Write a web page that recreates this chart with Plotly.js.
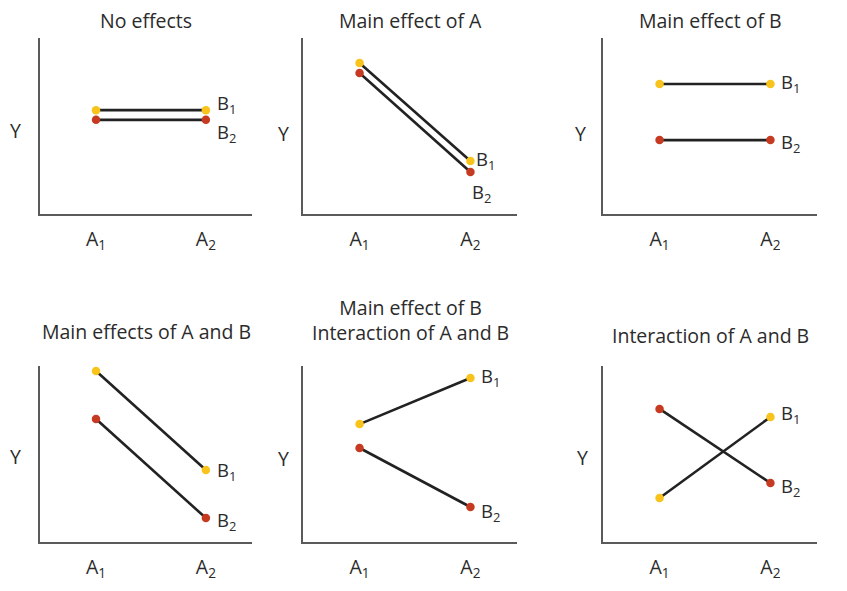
<!DOCTYPE html>
<html>
<head>
<meta charset="utf-8">
<script src="https://cdn.plot.ly/plotly-3.0.1.min.js"></script>
<style>html,body{margin:0;padding:0;background:#fff;}#chart{width:847px;height:591px;}</style>
</head>
<body>
<div id="chart"></div>
<script>
// ---- data ----
const categories = ['A<sub>1</sub>', 'A<sub>2</sub>'];
const seriesNames = ['B<sub>1</sub>', 'B<sub>2</sub>'];
const panelTitles = [
  'No effects',
  'Main effect of A',
  'Main effect of B',
  'Main effects of A and B',
  'Main effect of B<br>Interaction of A and B',
  'Interaction of A and B'
];
const b1Values = [
  [5.9, 5.9],
  [8.58, 3.01],
  [7.39, 7.39],
  [9.72, 4.09],
  [6.70, 9.32],
  [2.50, 7.10]
];
const b2Values = [
  [5.35, 5.35],
  [8.01, 2.39],
  [4.20, 4.20],
  [6.99, 1.36],
  [5.34, 1.99],
  [7.56, 3.35]
];
const yTitle = 'Y';

// ---- layout / style ----
const W = 847, H = 591;
const colPx = [[40, 252], [303, 517], [603, 817]];
const rowPx = [[38, 214], [366, 542]];
const yellow = '#F8C31A';
const red = '#C73A22';
const lineColor = '#222222';
const textColor = '#2b2b2b';
const axisColor = '#5a5a5a';
const fontFamily = '"Open Sans", Lato, sans-serif';
const fs = 19.5;
const labelFs = 18.5;
// label pixel offsets (B1, B2) per panel
const labelShift = [
  [[10, 6], [10, -13]],
  [[5, 1], [1, -21]],
  [[10, 1], [10, -3]],
  [[10, -1], [10, -3]],
  [[10, 1], [10, -5]],
  [[10, 3], [10, -4]]
];
const yLabelShift = [[-25, -4], [-20, -7], [-23, -7], [-25, -2], [-20, -4], [-21, -3]];
const titleY = [[20, 20, 20], [332, 320, 335]];

const traces = [];
const layout = {
  width: W, height: H,
  margin: {l: 0, r: 0, t: 0, b: 0},
  paper_bgcolor: '#fff', plot_bgcolor: 'rgba(0,0,0,0)',
  showlegend: false,
  font: {family: fontFamily, color: textColor, size: fs},
  annotations: []
};

for (let i = 0; i < 6; i++) {
  const r = Math.floor(i / 3), c = i % 3;
  const n = i + 1;
  const xa = 'x' + (n === 1 ? '' : n), ya = 'y' + (n === 1 ? '' : n);
  const xk = 'xaxis' + (n === 1 ? '' : n), yk = 'yaxis' + (n === 1 ? '' : n);
  const xd = [colPx[c][0] / W, colPx[c][1] / W];
  const yd = [1 - rowPx[r][1] / H, 1 - rowPx[r][0] / H];
  layout[xk] = {
    domain: xd, anchor: ya, type: 'category',
    categoryorder: 'array', categoryarray: categories,
    range: [-0.51, 1.42],
    showline: true, linecolor: axisColor, linewidth: 2,
    showgrid: false, zeroline: false,
    ticks: 'outside', ticklen: 7, tickcolor: 'rgba(0,0,0,0)',
    tickfont: {size: fs, color: textColor, family: fontFamily},
    fixedrange: true
  };
  layout[yk] = {
    domain: yd, anchor: xa, range: [0, 10],
    showline: true, linecolor: axisColor, linewidth: 2,
    showgrid: false, zeroline: false, showticklabels: false, ticks: '',
    fixedrange: true
  };
  // unrotated Y axis label
  layout.annotations.push({
    xref: xa + ' domain', yref: ya + ' domain', x: 0, y: 0.5,
    xanchor: 'center', yanchor: 'middle',
    xshift: yLabelShift[i][0], yshift: yLabelShift[i][1],
    text: yTitle, showarrow: false,
    font: {size: fs, color: textColor, family: fontFamily}
  });
  const series = [[b1Values[i], yellow], [b2Values[i], red]];
  series.forEach(([vals, col], k) => {
    traces.push({
      type: 'scatter', mode: 'lines+markers',
      x: categories, y: vals, xaxis: xa, yaxis: ya,
      name: seriesNames[k],
      line: {color: lineColor, width: 2.6},
      marker: {color: col, size: 8.5},
      hoverinfo: 'skip'
    });
    layout.annotations.push({
      xref: xa, yref: ya, x: 1, y: vals[1],
      text: seriesNames[k], showarrow: false,
      xanchor: 'left', yanchor: 'middle', borderpad: 0,
      xshift: labelShift[i][k][0], yshift: labelShift[i][k][1],
      font: {size: labelFs, color: textColor, family: fontFamily}
    });
  });
  layout.annotations.push({
    xref: 'paper', yref: 'paper',
    x: (xd[0] + xd[1]) / 2,
    y: 1 - titleY[r][c] / H,
    text: panelTitles[i], showarrow: false,
    xanchor: 'center', yanchor: 'middle',
    font: {size: fs, color: textColor, family: fontFamily}
  });
}

Plotly.newPlot('chart', traces, layout, {staticPlot: true, displayModeBar: false});
</script>
</body>
</html>
